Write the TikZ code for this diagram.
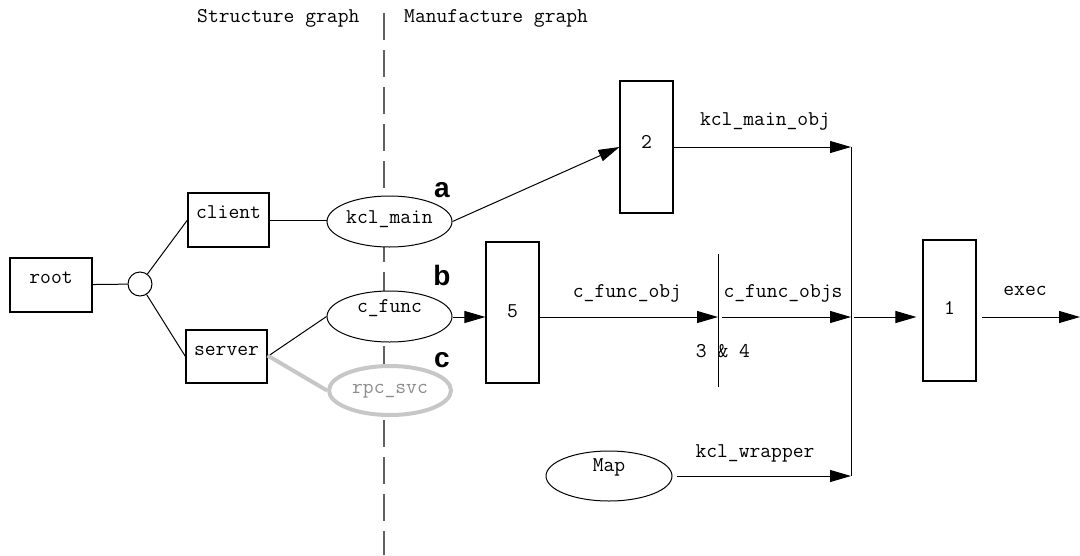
\documentclass[tikz,border=0pt]{standalone}
\usepackage{fontspec}
\newfontfamily\tagfont{Liberation Sans}
\usetikzlibrary{arrows.meta,shapes.geometric}
\begin{document}
\begin{tikzpicture}[x=1pt,y=-1pt,
  every node/.style={font=\ttfamily\fontsize{21}{23}\selectfont},
  box/.style={draw, line width=1.1pt, inner sep=0pt},
  oval/.style={draw, ellipse, line width=1pt, fill=white, inner sep=0pt,
    minimum width=125pt, minimum height=51pt},
  fadedoval/.style={oval, line width=4pt, draw=black!22,
    minimum width=122pt, minimum height=49pt},
  txt/.style={anchor=base, inner sep=0pt},
  tag/.style={anchor=base, inner sep=0pt,
    font=\tagfont\bfseries\fontsize{28}{30}\selectfont},
  wire/.style={line width=1pt},
  flow/.style={wire, -{Triangle[length=21pt,width=12pt]}},
  faded/.style={line width=4pt, draw=black!22},
  divider/.style={line width=1.4pt, draw=black!62, dash pattern=on 27pt off 10pt}
]
\useasboundingbox (0,0) rectangle (1080,555);

% split between the two graphs
\coordinate (divTop) at (384,13);
\coordinate (divBot) at (384,555);
\draw[divider] (divTop) -- (divBot);
\node[txt, anchor=base west] (hStruct) at (197,22) {Structure graph};
\node[txt, anchor=base west] (hManuf) at (404,22) {Manufacture graph};

% structure graph
\node[box, minimum width=82pt, minimum height=54pt] (root) at (51,285) {};
\node[txt] (rootT) at (51,283) {root};
\node[draw, circle, line width=1pt, minimum size=24pt, inner sep=0pt] (junc) at (140,284) {};
\node[box, minimum width=81pt, minimum height=54pt] (client) at (228.5,220) {};
\node[txt] (clientT) at (228.5,218) {client};
\node[box, minimum width=81pt, minimum height=53pt] (server) at (226.5,356.5) {};
\node[txt] (serverT) at (226.5,355) {server};

% components
\node[oval] (kclmain) at (389.5,221.5) {};
\node[txt] (kclmainT) at (389.5,223) {kcl\_main};
\node[oval] (cfunc) at (389.5,316.5) {};
\node[txt] (cfuncT) at (389.5,312) {c\_func};
\node[fadedoval] (rpcsvc) at (390,390.5) {};
\node[txt, text=black!45] (rpcsvcT) at (390,393) {rpc\_svc};
\node[oval, minimum width=126pt, minimum height=50pt] (map) at (609,476) {};
\node[txt] (mapT) at (609,471) {Map};

\node[tag] (tagA) at (442,197) {a};
\node[tag] (tagB) at (442,285) {b};
\node[tag] (tagC) at (442,367) {c};

% manufacture steps
\node[box, minimum width=53pt, minimum height=132pt] (box2) at (646.5,147) {};
\node[txt] (box2T) at (646.5,148) {2};
\node[box, minimum width=53pt, minimum height=141pt] (box5) at (512.5,312.5) {};
\node[txt] (box5T) at (512.5,317) {5};
\node[box, minimum width=53pt, minimum height=141pt] (box1) at (949.5,310.5) {};
\node[txt] (box1T) at (949.5,314) {1};

\coordinate (row) at (0,317);
\coordinate (barTop) at (718,254);
\coordinate (barBot) at (718,387);
\coordinate (busTop) at (851,147);
\coordinate (busBot) at (851,476);
\coordinate (out) at (1080,317);

% structure edges
\draw[wire] (root) -- (junc);
\draw[wire] (junc) -- (client.west);
\draw[wire] (junc) -- (server.west);
\draw[wire] (client.east) -- (client.east -| kclmain.west);
\draw[wire] (server.east) -- (cfunc.west);
\draw[faded] ([yshift=1pt]server.east) -- (rpcsvc.west);

% manufacture flow
\draw[flow] (kclmain.east) -- (box2.west);
\draw[flow] (box2.east |- busTop) -- (busTop);
\node[txt] (lblMain) at (765,125) {kcl\_main\_obj};
\draw[flow] (cfunc.east |- row) -- (box5.west |- row);
\draw[flow] (box5.east |- row) -- (barTop |- row);
\node[txt] (lblObj) at (627,297) {c\_func\_obj};
\draw[wire] (barTop) -- (barBot);
\node[txt] (lbl34) at (723,357) {3 \& 4};
\draw[flow] ([xshift=4pt]barTop |- row) -- (busTop |- row);
\node[txt] (lblObjs) at (783,297) {c\_func\_objs};
\draw[wire] (busTop) -- (busBot);
\draw[flow] ([xshift=4pt]map.east) -- (busBot);
\node[txt] (lblWrap) at (755,457) {kcl\_wrapper};
\draw[flow, shorten >=6pt] ([xshift=3pt]busTop |- row) -- (box1.west |- row);
\draw[flow] ([xshift=5pt]box1.east |- row) -- (out);
\node[txt] (lblExec) at (1025,295) {exec};
\end{tikzpicture}
\end{document}
